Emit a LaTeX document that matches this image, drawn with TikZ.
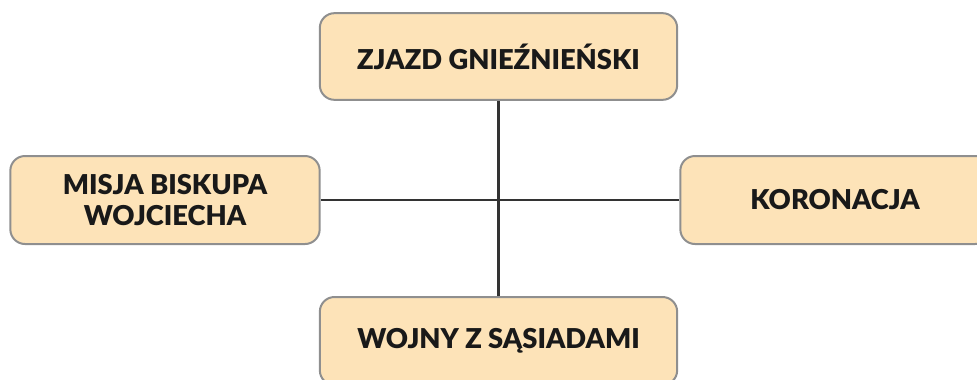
\documentclass[tikz,border=0pt]{standalone}
\usepackage{fontspec}
\setmainfont{Lato}[BoldFont={Lato Black}]
\usepackage{tikz}

\definecolor{boxfill}{HTML}{FDE3B8}
\definecolor{boxline}{HTML}{8F8F8F}
\definecolor{linkline}{HTML}{333333}

\begin{document}
\begin{tikzpicture}[x=0.75pt,y=0.75pt,yscale=-1,
  topic/.style={draw=boxline,fill=boxfill,line width=1.5pt,rounded corners=11pt,
    inner sep=0pt,align=center,font=\fontsize{20.5}{23.5}\selectfont\bfseries,text=black!90},
  link/.style={draw=linkline,line width=1.6pt}]
\useasboundingbox (0,0) rectangle (977,379);

% Text Node
\node [topic,minimum width=268pt,minimum height=65pt] (zjazd) at (498.5,56.5) {ZJAZD GNIEŹNIEŃSKI};
% Text Node
\node [topic,minimum width=232pt,minimum height=66pt] (misja) at (165,200) {MISJA BISKUPA\\WOJCIECHA};
% Text Node
\node [topic,minimum width=232pt,minimum height=66pt] (koronacja) at (835,200) {KORONACJA};
% Text Node
\node [topic,minimum width=268pt,minimum height=66pt] (wojny) at (498.5,341) {WOJNY Z SĄSIADAMI};

% Connection
\draw [link] (zjazd.south) -- (wojny.north);
% Connection
\draw [link] (misja.east) -- (koronacja.west);

\end{tikzpicture}
\end{document}
